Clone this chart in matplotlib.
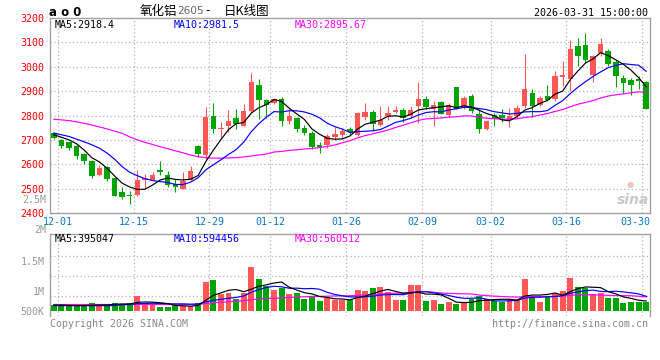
import matplotlib
matplotlib.use('Agg')
import matplotlib.pyplot as plt
import numpy as np
import pandas as pd
from matplotlib import transforms

# ---------------- data ----------------
opens = [2728, 2700, 2690, 2673, 2643, 2614, 2554, 2590, 2542, 2485,
         2472, 2475, 2534, 2537, 2578, 2557, 2520, 2500, 2537, 2673,
         2638, 2798, 2743, 2756, 2788, 2756, 2818, 2925, 2864, 2850,
         2867, 2778, 2790, 2750, 2730, 2680, 2680, 2712, 2721, 2744,
         2718, 2793, 2816, 2762, 2796, 2816, 2823, 2796, 2837, 2866,
         2828, 2855, 2802, 2915, 2831, 2880, 2808, 2743, 2800, 2801,
         2780, 2798, 2839, 2893, 2842, 2882, 2866, 2957, 2948, 3084,
         3088, 2968, 3056, 3066, 3018, 2952, 2944, 2950, 2938]
highs = [2732, 2703, 2693, 2678, 2646, 2616, 2597, 2592, 2545, 2507,
         2492, 2578, 2561, 2567, 2614, 2571, 2541, 2567, 2594, 2680,
         2834, 2853, 2775, 2822, 2825, 2849, 2975, 2950, 2866, 2873,
         2876, 2828, 2795, 2760, 2735, 2690, 2725, 2751, 2748, 2752,
         2816, 2853, 2823, 2837, 2840, 2840, 2830, 2838, 2936, 2880,
         2859, 2860, 2852, 2916, 2878, 2890, 2825, 2780, 2810, 2825,
         2829, 2842, 3054, 2907, 2880, 2927, 2984, 3022, 3111, 3118,
         3138, 3050, 3118, 3074, 3029, 2965, 2952, 2961, 2943]
lows = [2702, 2665, 2658, 2620, 2600, 2545, 2553, 2530, 2470, 2458,
        2435, 2468, 2497, 2535, 2555, 2507, 2486, 2499, 2536, 2630,
        2620, 2728, 2705, 2733, 2745, 2755, 2815, 2785, 2790, 2848,
        2755, 2767, 2733, 2722, 2664, 2648, 2666, 2700, 2703, 2720,
        2716, 2780, 2735, 2755, 2782, 2810, 2772, 2790, 2770, 2826,
        2757, 2805, 2795, 2825, 2825, 2810, 2730, 2740, 2757, 2774,
        2753, 2791, 2832, 2794, 2838, 2858, 2860, 2920, 2900, 3005,
        3016, 2937, 3045, 3002, 2918, 2893, 2886, 2907, 2825]
closes = [2706, 2673, 2668, 2632, 2612, 2550, 2586, 2541, 2471, 2464,
          2471, 2537, 2544, 2557, 2567, 2513, 2508, 2533, 2571, 2643,
          2795, 2745, 2750, 2777, 2765, 2818, 2938, 2862, 2843, 2867,
          2778, 2799, 2745, 2730, 2670, 2671, 2717, 2725, 2737, 2731,
          2812, 2816, 2766, 2780, 2810, 2823, 2790, 2823, 2867, 2835,
          2845, 2808, 2845, 2828, 2873, 2817, 2745, 2776, 2784, 2788,
          2798, 2832, 2907, 2839, 2870, 2862, 2961, 2968, 3074, 3046,
          3027, 3046, 3095, 3013, 2961, 2934, 2927, 2941, 2825]
volumes = [241000, 241000, 201000, 201000, 201000, 322000, 281000, 201000, 322000, 281000,
           322000, 603000, 281000, 281000, 161000, 161000, 241000, 201000, 201000, 322000,
           1166000, 1246000, 683000, 724000, 482000, 724000, 1742000, 1286000, 1005000, 844000,
           925000, 683000, 724000, 482000, 603000, 402000, 509000, 442000, 442000, 442000,
           844000, 804000, 925000, 965000, 777000, 442000, 442000, 1045000, 1045000, 402000,
           442000, 281000, 362000, 281000, 322000, 482000, 603000, 482000, 402000, 375000,
           482000, 442000, 1286000, 603000, 375000, 603000, 737000, 817000, 1340000, 978000,
           938000, 683000, 737000, 536000, 536000, 335000, 375000, 375000, 375000]

# moving-average values before a full window is available
ma5_head = [2721, 2711, 2700, 2684]
ma10_head = [2728, 2721, 2714, 2703, 2692, 2680, 2666, 2646, 2621]
ma30_head = [2785, 2782, 2779, 2774, 2768, 2761, 2753, 2745, 2736, 2727,
             2712, 2700, 2690, 2681, 2672, 2664, 2655, 2647, 2638, 2631,
             2627, 2625, 2625, 2626, 2627, 2630, 2634, 2638, 2642]
vma5_head = [241000, 236000, 225000, 216000]
vma10_head = [215000] * 9
vma30_head = [260000] * 20 + [300000, 330000, 350000, 370000, 390000, 410000, 450000, 480000, 500000]

date_labels = ['12-01', '12-15', '12-29', '01-12', '01-26', '02-09', '03-02', '03-16', '03-30']
date_index = [0, 10, 20, 28, 38, 48, 57, 67, 77]
price_ticks = [2400, 2500, 2600, 2700, 2800, 2900, 3000, 3100, 3200]
vol_tick_values = [0, 812000, 2012000]
vol_tick_labels = ['500K', '1M', '1.5M']
vol_grid_values = [612000, 1412000, 2212000]

title_name = '氧化铝'
title_code = '2605'
title_dash = '-'
title_rest = '日K线图'
timestamp = '2026-03-31 15:00:00'
ma_price_legend = ['MA5:2918.4', 'MA10:2981.5', 'MA30:2895.67']
ma_vol_legend = ['MA5:395047', 'MA10:594456', 'MA30:560512']

# ---------------- styling ----------------
RED = '#ff5656'
GREEN = '#00a400'
GRID = '#b4b4b4'
SPINE = '#a0a0a0'
MONO = 'DejaVu Sans Mono'
plt.rcParams['font.family'] = ['DejaVu Sans', 'Noto Sans CJK SC']

W, H = 660, 360
fig = plt.figure(figsize=(W / 100, H / 100), dpi=100)
fig.patch.set_facecolor('white')


def fx(px):
    return px / W


def fy(py):
    return 1 - py / H


def rolling(vals, n, head):
    s = pd.Series(vals, dtype=float).rolling(n).mean().to_numpy()
    s[:n - 1] = head
    return s


ax = fig.add_axes([fx(50), fy(213), 600 / W, (213 - 18) / H])
axv = fig.add_axes([fx(50), fy(316), 600 / W, (316 - 234) / H])

n = len(closes)
x = np.arange(n)
o = np.array(opens, float)
c = np.array(closes, float)
cols = [RED if cc > oo else GREEN for oo, cc in zip(o, c)]

# candles
ax.vlines(x, lows, highs, colors=cols, lw=0.8, zorder=3)
body_h = np.maximum(np.abs(c - o), 3)
ax.bar(x, body_h, bottom=np.minimum(o, c), width=0.72, color=cols, lw=0, zorder=4)

ma5 = rolling(closes, 5, ma5_head)
ma10 = rolling(closes, 10, ma10_head)
ma30 = rolling(closes, 30, ma30_head)
ax.plot(x, ma30, color='#ff00ff', lw=0.85, zorder=5)
ax.plot(x, ma10, color='#0000ff', lw=0.85, zorder=5)
ax.plot(x, ma5, color='black', lw=0.85, zorder=6)

ax.set_xlim(-0.5, n - 0.5)
ax.set_ylim(2400, 3200)
ax.set_yticks(price_ticks)
ax.set_yticklabels([str(v) for v in price_ticks], color='#ff0000', fontsize=7.2, family=MONO)
ax.tick_params(axis='y', length=0, pad=4)
for v in price_ticks[1:-1]:
    ax.axhline(v, color=GRID, lw=0.9, ls=(0, (1, 2)), zorder=1)

grid_x = [i + 0.5 for i in date_index]
ax.set_xticks(grid_x)
ax.set_xticklabels(date_labels, color='#0a78c8', fontsize=7.2, family=MONO)
ax.tick_params(axis='x', length=0, pad=3)
lbls = ax.get_xticklabels()
lbls[-1].set_transform(lbls[-1].get_transform() + transforms.ScaledTranslation(-7 / 100, 0, fig.dpi_scale_trans))
for gx in grid_x:
    ax.axvline(gx, color=GRID, lw=0.9, ls=(0, (1, 2)), zorder=1)
for sp in ax.spines.values():
    sp.set_color(SPINE)
    sp.set_linewidth(1.0)

# volume
vols = np.array(volumes, float)
axv.bar(x, vols, width=0.78, color=cols, lw=0, zorder=3)
vma5 = rolling(volumes, 5, vma5_head)
vma10 = rolling(volumes, 10, vma10_head)
vma30 = rolling(volumes, 30, vma30_head)
axv.plot(x, vma30, color='#ff00ff', lw=0.85, zorder=5)
axv.plot(x, vma10, color='#0000ff', lw=0.85, zorder=5)
axv.plot(x, vma5, color='black', lw=0.85, zorder=6)
axv.set_xlim(-0.5, n - 0.5)
axv.set_ylim(-200000, 3080000)
axv.set_yticks(vol_tick_values)
axv.set_yticklabels(vol_tick_labels, color='#999999', fontsize=7.2, family=MONO)
axv.tick_params(axis='y', length=0, pad=4)
axv.set_xticks([])
for v in vol_grid_values:
    axv.axhline(v, color=GRID, lw=0.9, ls=(0, (1, 2)), zorder=1)
for gx in grid_x:
    axv.axvline(gx, color=GRID, lw=0.9, ls=(0, (1, 2)), zorder=1)
for k, sp in axv.spines.items():
    sp.set_color(SPINE)
    sp.set_linewidth(1.0)
axv.spines['bottom'].set_visible(False)

# texts
fig.text(fx(46), fy(230), '2M', color='#999999', fontsize=7.2, family=MONO, ha='right', va='center')
fig.text(fx(46), fy(200), '2.5M', color='#999999', fontsize=7.2, family=MONO, ha='right', va='center')

fig.text(fx(49), fy(12), 'a o 0', fontsize=8.5, weight='bold', ha='left', va='center', color='black')
fig.text(fx(140), fy(11), title_name, fontsize=9, family=['Noto Sans CJK SC'], ha='left', va='center')
fig.text(fx(177), fy(11.5), title_code, fontsize=7.6, color='#666666', family=['DejaVu Sans'], ha='left', va='center')
fig.text(fx(205), fy(11), title_dash, fontsize=9, family=['DejaVu Sans'], ha='left', va='center')
fig.text(fx(224), fy(11), title_rest, fontsize=9, family=['Noto Sans CJK SC'], ha='left', va='center')
fig.text(fx(648), fy(12.5), timestamp, fontsize=7.2, family=MONO, ha='right', va='center', color='black')

leg_x = [55, 174, 295]
leg_c = ['black', '#0000ff', '#ff00ff']
for lx, lc, lt in zip(leg_x, leg_c, ma_price_legend):
    fig.text(fx(lx), fy(24.5), lt, fontsize=7.2, family=MONO, color=lc, ha='left', va='center')
for lx, lc, lt in zip(leg_x, leg_c, ma_vol_legend):
    fig.text(fx(lx), fy(239.5), lt, fontsize=7.2, family=MONO, color=lc, ha='left', va='center')

fig.text(fx(50), fy(324), 'Copyright 2026 SINA.COM', fontsize=7.2, family=MONO, color='#888888', ha='left', va='center')
fig.text(fx(648), fy(324), 'http://finance.sina.com.cn', fontsize=7.2, family=MONO, color='#888888', ha='right', va='center')

# sina watermark
fig.text(fx(633), fy(200), 'sina', fontsize=10, style='italic', weight='bold', color='#c8c8c8', ha='center', va='center')
fig.text(fx(630), fy(184), '●', fontsize=6, color='#f3c4c4', ha='center', va='center')

fig.savefig('out.png', dpi=100)
